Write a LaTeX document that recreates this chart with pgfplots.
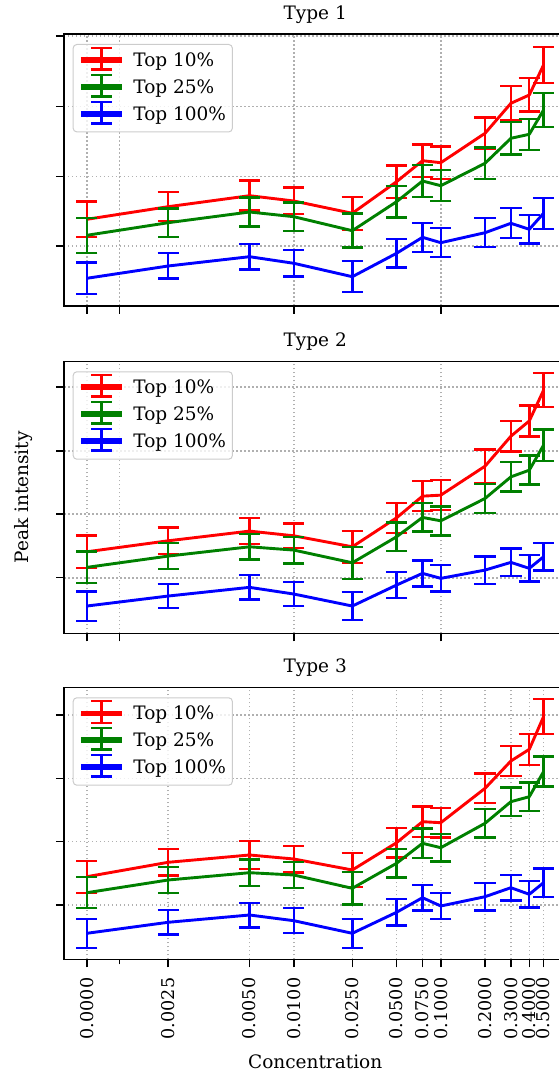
\documentclass[border=0pt]{standalone}
\usepackage{fontspec}
\setmainfont{DejaVu Serif}
\usepackage{pgfplots}
\pgfplotsset{compat=1.18}
\usepackage{pgfplotstable}
\definecolor{mplred}{HTML}{FF0000}
\definecolor{mplgreen}{HTML}{008000}
\definecolor{mplblue}{HTML}{0000FF}
\definecolor{gridgray}{HTML}{B0B0B0}
\definecolor{leggray}{HTML}{CCCCCC}
\newcommand\myfont{\fontsize{9.25}{11}\selectfont}
\newcommand\tickfont{\fontsize{8.8}{10.5}\selectfont}
\newcommand\errleg[1]{%
  \path (0pt,0pt) -- (20.5pt,0pt);
  \draw[overlay, #1, line width=1.4pt] (0pt,1.3pt) -- (20.5pt,1.3pt);
  \draw[overlay, #1, line width=1.2pt] (10.25pt,-4.1pt) -- (10.25pt,6.7pt);
  \draw[overlay, #1, line width=1.2pt] (5.1pt,-4.1pt) -- (15.4pt,-4.1pt);
  \draw[overlay, #1, line width=1.2pt] (5.1pt,6.7pt) -- (15.4pt,6.7pt);
}
% x positions: symlog(linthresh=0.005) display coordinates of the concentrations
\pgfplotstableread{
x       r      re    g      ge    b     be
0       86.7   17.8  70.7   17.5  27.7  15.8
81.35   99.3   14.5  83.3   14.2  40.0  12.7
162.7  110.3   15.0  94.0   14.5  49.3  12.8
207.0  105.0   13.3  89.3   14.2  42.7  13.3
265.5   92.7   16.5  75.3   17.0  29.3  15.5
309.75 124.3   16.3 104.3   15.8  52.7  14.3
335.7  145.3   16.3 125.0   15.8  68.7  14.5
354.0  143.3   16.2 120.3   15.5  63.3  14.5
398.25 172.7   15.8 142.7   15.8  73.3  14.5
424.1  202.7   17.0 167.7   16.3  82.7  15.0
442.5  211.0   16.7 171.7   15.5  76.7  14.2
456.75 241.0   17.8 196.0   17.2  92.7  15.5
}\typeone
\pgfplotstableread{
x       r      re    g      ge    b     be
0       81.6   16.2  66.0   15.8  27.3  14.7
81.35   92.6   13.2  77.3   13.2  37.3  12.0
162.7  102.3   13.0  86.6   12.8  46.0  12.3
207.0   97.6   12.5  83.3   13.3  39.3  12.2
265.5   86.6   16.0  70.6   16.0  27.3  14.2
309.75 115.6   15.0  96.6   14.3  48.3  13.2
335.7  137.3   15.0 116.0   14.2  60.0  13.0
354.0  138.3   15.0 112.6   14.5  55.0  13.3
398.25 167.3   16.7 135.0   14.7  63.3  13.7
424.1  197.3   15.3 156.6   14.8  71.0  13.7
442.5  212.6   15.5 163.3   14.5  65.0  13.2
456.75 243.3   17.0 188.3   15.7  76.6  13.8
}\typetwo
\pgfplotstableread{
x       r      re    g      ge    b     be
0       82.6   16.0  66.6   15.5  26.0  14.5
81.35   97.0   13.3  79.3   13.0  37.0  12.2
162.7  104.3   13.8  86.6   13.3  44.3  12.3
207.0  100.3   13.3  84.3   13.2  38.6  12.5
265.5   89.3   17.0  71.0   16.2  26.0  14.5
309.75 116.6   14.8  96.0   14.2  47.0  13.2
335.7  137.6   15.3 116.0   14.7  61.6  12.8
354.0  136.6   14.7 111.6   13.8  53.3  12.8
398.25 171.0   14.7 136.0   14.2  62.6  13.7
424.1  198.3   15.0 157.6   14.2  71.6  12.8
442.5  210.0   15.5 162.6   14.2  65.0  13.2
456.75 242.6   17.5 187.6   15.0  76.6  14.2
}\typethree
\pgfplotsset{
  mybase/.style={
    width=251.2pt, height=136pt, scale only axis,
    xmin=-22.84, xmax=479.6, ymin=0,
    axis line style={line width=0.7pt},
    every tick/.style={black, line width=0.7pt},
    major tick length=4pt, minor tick length=2.5pt,
    tick align=outside, xtick pos=left, ytick pos=left,
    xmajorgrids, ymajorgrids,
    major grid style={gridgray, line width=0.75pt, dash pattern=on 0.75pt off 1.25pt},
    yticklabels={},
    /pgf/number format/assume math mode=true,
    tick label style={font=\tickfont},
    label style={font=\myfont},
    title style={font=\myfont, at={(axis description cs:0.5,1)}, anchor=base, yshift=1.35pt},
    legend cell align=left,
    legend style={at={(0,1)}, anchor=north west, xshift=4.35pt, yshift=-5pt,
      draw=leggray, line width=0.5pt, rounded corners=1.8pt, fill=white,
      fill opacity=0.8, text opacity=1, font=\myfont,
      inner xsep=3.15pt, inner ysep=2.35pt, row sep=1.5pt,
      nodes={inner xsep=0pt, inner ysep=1.5pt, text height=7pt, text depth=2pt},
      /tikz/every odd column/.append style={column sep=5pt}},
  },
  errs/.style={line width=1.45pt, line join=round,
    error bars/y dir=both, error bars/y explicit,
    error bars/error bar style={line width=1.2pt},
    error bars/error mark options={rotate=90, line width=1.2pt, mark size=5.3pt}},
  pr/.style={mplred, errs, legend image code/.code={\errleg{mplred}}},
  pg/.style={mplgreen, errs, legend image code/.code={\errleg{mplgreen}}},
  pb/.style={mplblue, errs, legend image code/.code={\errleg{mplblue}}},
}
\begin{document}
\begin{tikzpicture}
% Type 1
\begin{axis}[mybase, at={(32pt,386pt)}, anchor=south west,
  ymax=272, ytick={60,129.3,199.3,270},
  xtick={0,32.54,207.0,354.0}, xticklabels={},
  title={Type 1}]
\addplot[pr] table[x=x, y=r, y error=re] {\typeone};
\addplot[pg] table[x=x, y=g, y error=ge] {\typeone};
\addplot[pb] table[x=x, y=b, y error=be] {\typeone};
\legend{Top 10\%, Top 25\%, Top 100\%}
\end{axis}
% Type 2
\begin{axis}[mybase, at={(32pt,222.35pt)}, anchor=south west,
  ymax=272.3, ytick={55.6,119.3,182.6,246.6},
  xtick={0,32.54,207.0,354.0}, xticklabels={},
  title={Type 2},
  ylabel={Peak intensity},
  ylabel style={at={(axis description cs:-0.07106,0.5)}, anchor=base}]
\addplot[pr] table[x=x, y=r, y error=re] {\typetwo};
\addplot[pg] table[x=x, y=g, y error=ge] {\typetwo};
\addplot[pb] table[x=x, y=b, y error=be] {\typetwo};
\legend{Top 10\%, Top 25\%, Top 100\%}
\end{axis}
% Type 3
\begin{axis}[mybase, at={(32pt,59.35pt)}, anchor=south west,
  ymax=272, ytick={54.3,117.6,181,244.3},
  xtick={0,81.35,162.7,207.0,265.5,309.75,335.7,354.0,398.25,424.1,442.5,456.75},
  xticklabels={0.0000,0.0025,0.0050,0.0100,0.0250,0.0500,0.0750,0.1000,0.2000,0.3000,0.4000,0.5000},
  minor xtick={32.54},
  xticklabel style={rotate=90, anchor=east, inner sep=0pt},
  xticklabel shift=5pt,
  title={Type 3},
  xlabel={Concentration},
  xlabel style={at={(axis description cs:0.5,0)}, anchor=base, yshift=-54.5pt}]
\addplot[pr] table[x=x, y=r, y error=re] {\typethree};
\addplot[pg] table[x=x, y=g, y error=ge] {\typethree};
\addplot[pb] table[x=x, y=b, y error=be] {\typethree};
\legend{Top 10\%, Top 25\%, Top 100\%}
\end{axis}
\pgfresetboundingbox
\path[use as bounding box] (0,0) rectangle (279pt,539pt);
\end{tikzpicture}
\end{document}
